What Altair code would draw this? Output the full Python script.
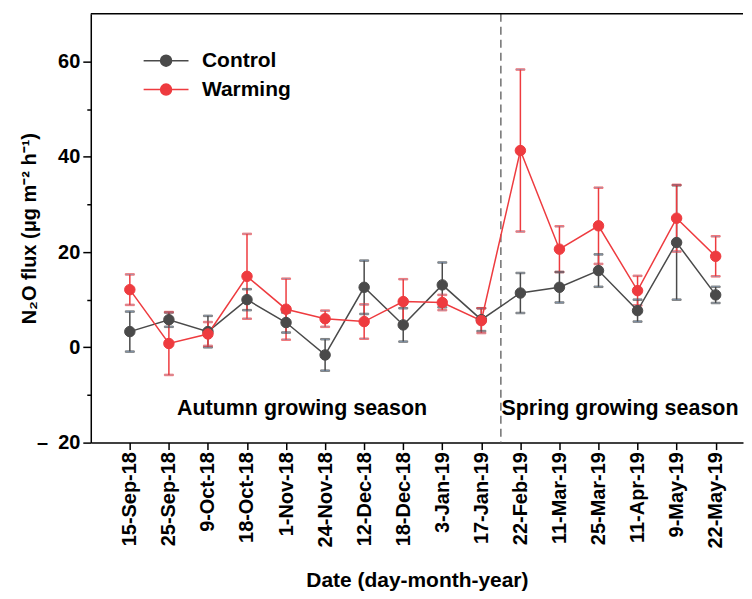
import altair as alt
import pandas as pd

dates = ["15-Sep-18", "25-Sep-18", "9-Oct-18", "18-Oct-18", "1-Nov-18", "24-Nov-18",
         "12-Dec-18", "18-Dec-18", "3-Jan-19", "17-Jan-19", "22-Feb-19", "11-Mar-19",
         "25-Mar-19", "11-Apr-19", "9-May-19", "22-May-19"]
control_mean = [3.3, 5.8, 3.3, 10.0, 5.2, -1.6, 12.6, 4.7, 13.1, 5.8, 11.4, 12.6, 16.1, 7.7, 22.0, 11.0]
control_err = [4.2, 1.5, 3.3, 2.2, 2.1, 3.3, 5.6, 3.5, 4.7, 2.4, 4.2, 3.2, 3.4, 2.3, 12.0, 1.7]
warming_mean = [12.1, 0.8, 2.8, 14.9, 8.0, 6.0, 5.4, 9.6, 9.4, 5.6, 41.3, 20.6, 25.5, 11.9, 27.1, 19.1]
warming_err = [3.2, 6.6, 2.5, 8.9, 6.4, 1.7, 3.6, 4.7, 1.6, 2.6, 17.0, 4.8, 8.0, 3.1, 7.0, 4.2]
series = ["Control", "Warming"]
colors = ["#4a4a4a", "#ee3b3f"]
season_labels = ["Autumn growing season", "Spring growing season"]
season_x = [4.41, 12.55]
season_y = [-13, -13]
divider_x = [9.5]

FONT = "Liberation Sans"

rows = []
for name, means, errs in [("Control", control_mean, control_err), ("Warming", warming_mean, warming_err)]:
    for i, (m, e) in enumerate(zip(means, errs)):
        rows.append({"idx": i, "date": dates[i], "series": name, "mean": m, "lo": m - e, "hi": m + e})
df = pd.DataFrame(rows)

label_array = "[" + ",".join("'" + d + "'" for d in dates) + "]"

x_scale = alt.Scale(domain=[-1, 15.7], nice=False, zero=False)
y_scale = alt.Scale(domain=[-20, 70], nice=False, zero=False)

x_axis = alt.Axis(
    values=list(range(len(dates))), labelExpr=label_array + "[datum.value]",
    labelAngle=-90, labelFontSize=20, labelPadding=2, tickSize=7,
    title="Date (day-month-year)", titleFontSize=21, titleY=144,
    titleBaseline="alphabetic", grid=False)


def xq(field):
    return alt.X(field, scale=x_scale, axis=x_axis)


legend_path = "M-2.25,0L2.25,0M0.55,0A0.55,0.55,0,1,1,-0.55,0A0.55,0.55,0,1,1,0.55,0Z"
legend = alt.Legend(title=None, orient="none", legendX=64.5, legendY=36,
                    symbolType=legend_path, symbolSize=400, symbolStrokeWidth=1.5,
                    labelFontSize=21, labelFont=FONT, labelFontWeight="bold", labelColor="black",
                    labelOffset=25, rowPadding=8, padding=0, symbolOpacity=1)

stroke_enc = alt.Stroke("series:N", scale=alt.Scale(domain=series, range=colors), legend=legend)
fill_enc = alt.Fill("series:N", scale=alt.Scale(domain=series, range=colors), legend=legend)

base = alt.Chart(df)

errbars = base.mark_rule(strokeWidth=1.5).encode(
    x=xq("idx:Q"), y=alt.Y("lo:Q", scale=y_scale, axis=None), y2="hi:Q", stroke=stroke_enc)

caps_lo = base.mark_tick(orient="horizontal", size=9, thickness=1.5).encode(
    x=xq("idx:Q"),
    y=alt.Y("lo:Q", scale=y_scale, axis=alt.Axis(orient="left", values=[-10, 10, 30, 50],
                                                   labels=False, domain=False, tickSize=4,
                                                   title=None, grid=False)),
    stroke=stroke_enc)
caps_hi = base.mark_tick(orient="horizontal", size=9, thickness=1.5).encode(
    x=xq("idx:Q"), y=alt.Y("hi:Q", scale=y_scale, axis=None), stroke=stroke_enc)

lines = base.mark_line(strokeWidth=1.5).encode(
    x=xq("idx:Q"), y=alt.Y("mean:Q", scale=y_scale, axis=None), stroke=stroke_enc,
    detail="series:N", order="idx:Q")

points = base.mark_point(filled=True, size=110, opacity=1, strokeWidth=1).encode(
    x=xq("idx:Q"),
    y=alt.Y("mean:Q", scale=y_scale, axis=alt.Axis(
        orient="left", values=[-20, 0, 20, 40, 60],
        labelExpr="datum.value < 0 ? '–\u2002' + abs(datum.value) : datum.label",
        labelFontSize=20, labelPadding=3, tickSize=8, grid=False,
        title="N₂O flux (μg m⁻² h⁻¹)", titleFontSize=20, titleX=-55, titleY=215,
        titleBaseline="alphabetic", titleAngle=-90)),
    fill=fill_enc, stroke=stroke_enc)

divider = alt.Chart(pd.DataFrame({"d": divider_x})).mark_rule(
    strokeDash=[8, 5], color="#707070", strokeWidth=1.5).encode(x=xq("d:Q"))

seasons = alt.Chart(pd.DataFrame({"t": season_labels, "sx": season_x, "sy": season_y})).mark_text(
    font=FONT, fontSize=21.5, fontWeight="bold", color="black", align="center", baseline="middle").encode(
    x=xq("sx:Q"),
    y=alt.Y("sy:Q", scale=y_scale, axis=None),
    text="t:N")

top_line = alt.Chart(pd.DataFrame({"a": [0]})).mark_rule(color="black", strokeWidth=1.5).encode(
    y=alt.value(0))

chart = alt.layer(divider, seasons, top_line, errbars, caps_lo, caps_hi, lines, points).resolve_axis(
    y="independent"
).properties(
    width=654, height=430,
    padding={"left": 12, "top": 4, "right": 0, "bottom": 0}
).configure_view(stroke=None).configure_axis(
    domainColor="black", domainWidth=1.5, tickColor="black", tickWidth=1.5,
    labelFont=FONT, labelFontWeight="bold", labelColor="black",
    titleFont=FONT, titleFontWeight="bold", titleColor="black"
)

chart.save("out.html", embed_options={"renderer": "svg", "actions": False})
